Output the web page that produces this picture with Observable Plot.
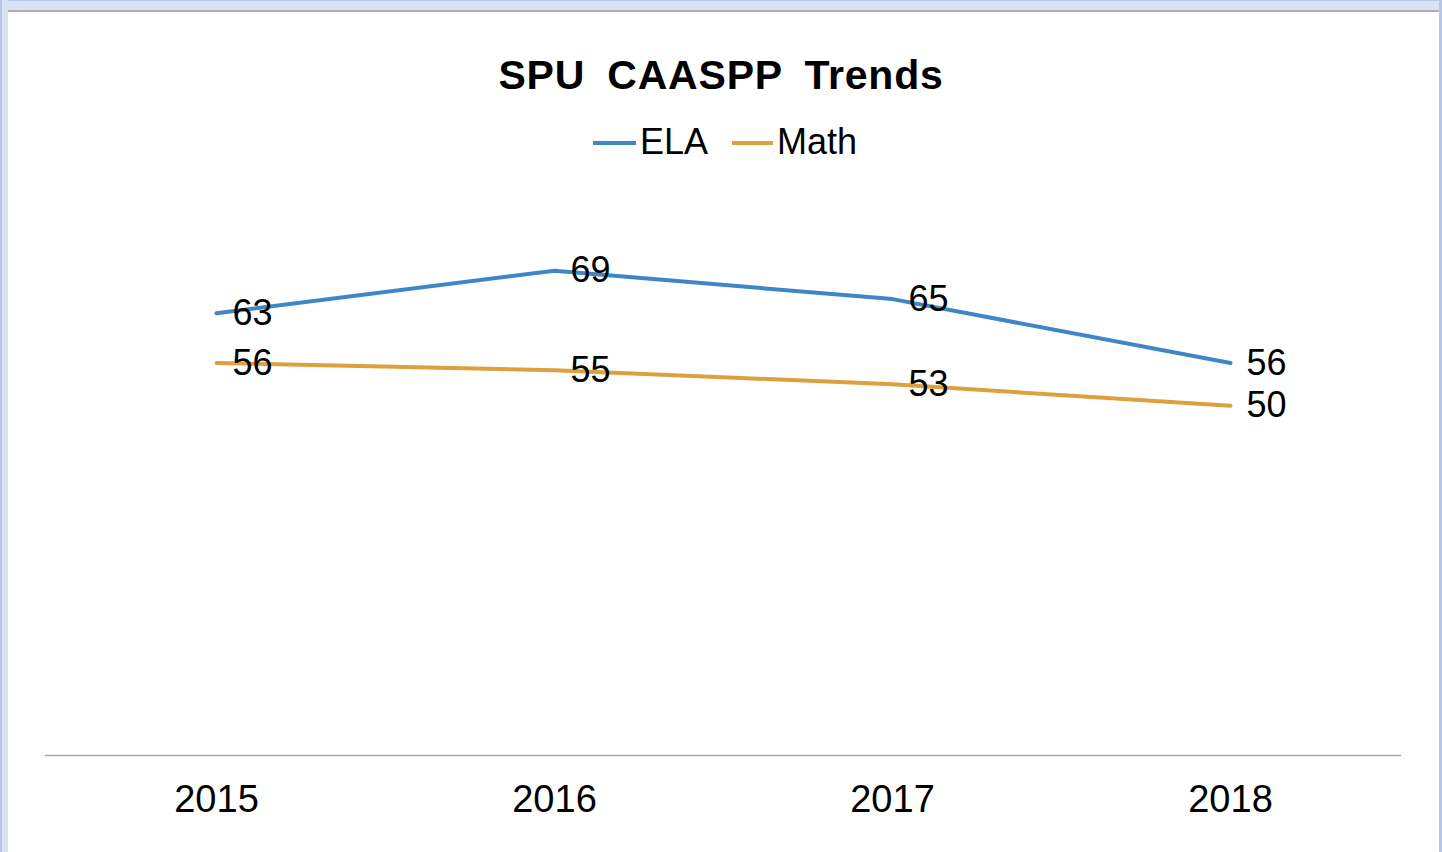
<!DOCTYPE html>
<html>
<head>
<meta charset="utf-8">
<script src="https://cdn.jsdelivr.net/npm/d3@7"></script>
<script src="https://cdn.jsdelivr.net/npm/@observablehq/plot@0.6"></script>
<style>
  html, body { margin: 0; padding: 0; background: #fff; }
  #wrap { position: relative; width: 1442px; height: 852px; overflow: hidden; background: #fff;
          font-family: Arial, "Liberation Sans", sans-serif; }
  #wrap svg { position: absolute; left: 0; top: 0; }
  .b { position: absolute; }
  #title { position: absolute; left: 0; width: 1442px; top: 55px; text-align: center; font-size: 41px;
           line-height: 41px; font-weight: bold; color: #000; letter-spacing: 0.8px; word-spacing: 10px; }
  #legend { position: absolute; top: 124px; left: 0; width: 1442px; font-size: 36px; line-height: 36px; color: #000; }
  .item { position: absolute; top: 0; white-space: nowrap; }
  .swatch { position: absolute; top: 17px; height: 4px; }
</style>
</head>
<body>
<div id="wrap">
  <div id="chart"></div>
  <div class="b" style="left:0;top:0;width:1442px;height:10px;background:#dae3f4;border-top:1px solid #b4c7e7;box-sizing:border-box;"></div>
  <div class="b" style="left:8px;top:10px;width:1432px;height:2px;background:#a9afb8;"></div>
  <div class="b" style="left:0;top:0;width:8px;height:852px;background:#dae3f4;border-left:2px solid #b4c7e7;box-sizing:border-box;"></div>
  <div class="b" style="left:1439px;top:0;width:3px;height:852px;background:#b4c7e7;"></div>
  <div id="title"></div>
  <div id="legend"></div>
</div>
<script>
const title = "SPU CAASPP Trends";
const years = ["2015", "2016", "2017", "2018"];
const seriesNames = ["ELA", "Math"];
const elaValues = [63, 69, 65, 56];
const mathValues = [56, 55, 53, 50];
const seriesColors = ["#3f86c6", "#dda03c"];

const valuesBySeries = {ELA: elaValues, Math: mathValues};
const data = seriesNames.flatMap(s => years.map((y, i) => ({series: s, year: y, value: valuesBySeries[s][i]})));

document.getElementById("title").textContent = title;

const legend = document.getElementById("legend");
const legendPos = [{sw: 593, tx: 640}, {sw: 732, tx: 777}];
seriesNames.forEach((s, i) => {
  const sw = document.createElement("div");
  sw.className = "swatch";
  sw.style.left = legendPos[i].sw + "px";
  sw.style.width = (legendPos[i].tx - legendPos[i].sw - 4) + "px";
  sw.style.background = seriesColors[i];
  legend.appendChild(sw);
  const t = document.createElement("div");
  t.className = "item";
  t.style.left = legendPos[i].tx + "px";
  t.textContent = s;
  legend.appendChild(t);
});

const chart = Plot.plot({
  width: 1442,
  height: 852,
  marginLeft: 45,
  marginRight: 42,
  marginTop: 50,
  marginBottom: 97,
  style: {fontFamily: "Arial, 'Liberation Sans', sans-serif", background: "transparent", overflow: "visible"},
  x: {type: "point", domain: years, padding: 0.5},
  y: {domain: [0.75, 100], axis: null},
  color: {domain: seriesNames, range: seriesColors},
  marks: [
    Plot.frame({anchor: "bottom", stroke: "#a6a6a6", strokeWidth: 1.5}),
    Plot.axisX({tickSize: 0, tickPadding: 30, fontSize: 38, label: null, fill: "#000"}),
    Plot.line(data, {x: "year", y: "value", z: "series", stroke: "series", strokeWidth: 4, strokeLinejoin: "round", strokeLinecap: "round"}),
    Plot.text(data, {x: "year", y: "value", text: d => String(d.value), textAnchor: "start", dx: 16, fontSize: 36, fill: "#000"})
  ]
});
document.getElementById("chart").appendChild(chart);
</script>
</body>
</html>
